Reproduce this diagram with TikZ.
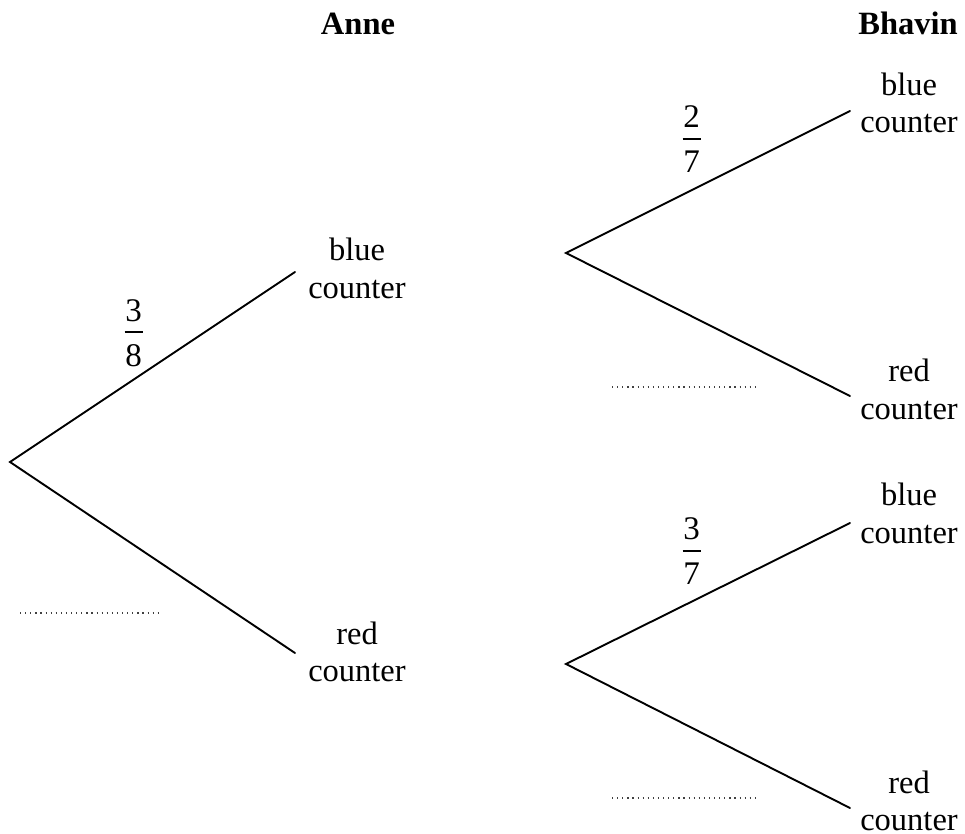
\documentclass[tikz,border=0pt]{standalone}
\usepackage{fontspec}
\setmainfont{Liberation Serif}
\begin{document}
\begin{tikzpicture}[x=1pt,y=-1pt,
  branch/.style={line width=1.9pt, line cap=round},
  lbl/.style={font=\fontsize{32.5}{37.5}\selectfont, align=center, inner sep=0pt, anchor=center},
  hdr/.style={font=\fontsize{32.5}{37}\selectfont\bfseries, inner sep=0pt, anchor=base},
  digit/.style={font=\fontsize{33}{38}\selectfont, inner sep=0pt, anchor=base},
  fbar/.style={line width=1.4pt},
  answer/.style={line width=1.2pt, black!75, dash pattern=on 1.2pt off 3.9pt}]
\useasboundingbox (0,0) rectangle (965,834);
% headers
\node[hdr] (anne) at (358,35) {Anne};
\node[hdr] (bhavin) at (908,35) {Bhavin};
% points
\coordinate (r0) at (10,462);
\coordinate (aB) at (295,272);
\coordinate (aR) at (295,653);
\coordinate (r1) at (566,253);
\coordinate (r2) at (566,664);
\coordinate (b1B) at (850,111);
\coordinate (b1R) at (850,396);
\coordinate (b2B) at (850,523);
\coordinate (b2R) at (850,808);
% branches
\draw[branch] (aB) -- (r0) -- (aR);
\draw[branch] (b1B) -- (r1) -- (b1R);
\draw[branch] (b2B) -- (r2) -- (b2R);
% labels
\node[lbl] (laB) at (357,268.5) {blue\\counter};
\node[lbl] (laR) at (357,652) {red\\counter};
\node[lbl] (lb1B) at (909,103) {blue\\counter};
\node[lbl] (lb1R) at (909,389.5) {red\\counter};
\node[lbl] (lb2B) at (909,513.5) {blue\\counter};
\node[lbl] (lb2R) at (909,801) {red\\counter};
% fractions
\node[digit] (f1n) at (133.5,321) {3};
\node[digit] (f1d) at (133.5,366) {8};
\draw[fbar] (124.5,332) -- (142.5,332);
\node[digit] (f2n) at (691.5,128) {2};
\node[digit] (f2d) at (691.5,173) {7};
\draw[fbar] (682.5,139) -- (700.5,139);
\node[digit] (f3n) at (691.5,539) {3};
\node[digit] (f3d) at (691.5,584) {7};
\draw[fbar] (682.5,551) -- (700.5,551);
% answer dots
\coordinate (d1a) at (20,613);
\coordinate (d1b) at (162,613);
\coordinate (d2a) at (612,387);
\coordinate (d2b) at (755,387);
\coordinate (d3a) at (612,798);
\coordinate (d3b) at (755,798);
\draw[answer] (d1a) -- (d1b);
\draw[answer] (d2a) -- (d2b);
\draw[answer] (d3a) -- (d3b);
\end{tikzpicture}
\end{document}
